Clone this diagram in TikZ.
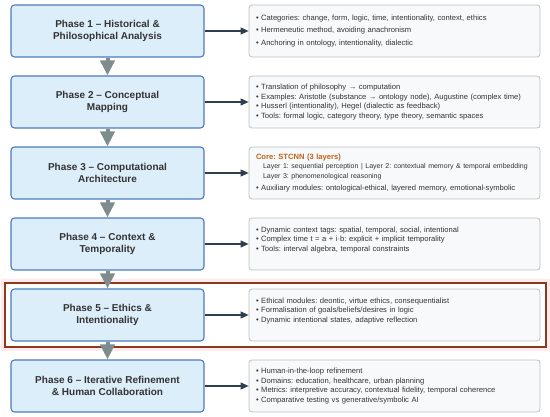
\documentclass[tikz,border=0pt]{standalone}
\usepackage{fontspec}
\setmainfont{Liberation Sans}
\usepackage{tikz}
\usetikzlibrary{arrows.meta}
\definecolor{phasefill}{RGB}{221,238,251}
\definecolor{phaseline}{RGB}{74,124,190}
\definecolor{notefill}{RGB}{248,249,250}
\definecolor{noteline}{RGB}{190,192,194}
\definecolor{navy}{RGB}{44,62,80}
\definecolor{stepgray}{RGB}{127,140,141}
\definecolor{corebrown}{RGB}{192,98,28}
\definecolor{marked}{RGB}{139,58,26}
\definecolor{markedglow}{RGB}{255,234,238}
\definecolor{inktext}{RGB}{51,51,51}
\frenchspacing
\begin{document}
\begin{tikzpicture}[x=1pt, y=-1pt,
		phase/.style={draw=phaseline, fill=phasefill, line width=1.1pt, rounded corners=3.5pt,
			minimum width=193pt, minimum height=52pt, align=center, text=inktext,
			font=\fontsize{10}{12.5}\selectfont\bfseries},
		note/.style={draw=noteline, fill=notefill, line width=0.8pt, rounded corners=3pt,
			minimum width=291pt, minimum height=52pt, inner xsep=7pt, text width=277pt,
			align=left, text=inktext, font=\fontsize{7.6}{9.7}\selectfont},
		tonote/.style={draw=navy, line width=1.1pt, -{Triangle[length=8pt, width=7pt]}},
		downarrow/.style={draw=stepgray, line width=4pt, -{Triangle[length=15pt, width=14pt]}}]
	\useasboundingbox (0,0) rectangle (550,417);

	% highlight round phase 5
	\draw[markedglow, line width=4pt] (3,281) rectangle (548,349);
	\draw[marked, fill=white, line width=1.2pt] (5,283) rectangle (546,347);

	% phases
	\node[phase] (p1) at (107.5,31) {Phase 1 -- Historical \&\\Philosophical Analysis};
	\node[phase] (p2) at (107.5,102) {Phase 2 -- Conceptual\\Mapping};
	\node[phase] (p3) at (107.5,173) {Phase 3 -- Computational\\Architecture};
	\node[phase] (p4) at (107.5,244) {Phase 4 -- Context \&\\Temporality};
	\node[phase] (p5) at (107.5,315) {Phase 5 -- Ethics \&\\Intentionality};
	\node[phase] (p6) at (107.5,386) {Phase 6 -- Iterative Refinement\\\& Human Collaboration};

	% details
	\node[note] (d1) at (394.5,31) {• Categories: change, form, logic, time, intentionality, context, ethics\\[2.8pt]
		• Hermeneutic method, avoiding anachronism\\[2.8pt]
		• Anchoring in ontology, intentionality, dialectic};
	\node[note] (d2) at (394.5,102) {• Translation of philosophy → computation\\
		• Examples: Aristotle (substance → ontology node), Augustine (complex time)\\
		• Husserl (intentionality), Hegel (dialectic as feedback)\\
		• Tools: formal logic, category theory, type theory, semantic spaces};
	\node[note] (d3) at (394.5,173) {{\color{corebrown}\bfseries Core: STCNN (3 layers)}\\
		{\fontsize{7}{9.5}\selectfont\hspace*{7pt}Layer 1: sequential perception | Layer 2: contextual memory \& temporal embedding\\
		\hspace*{7pt}Layer 3: phenomenological reasoning}\\[3pt]
		• Auxiliary modules: ontological-ethical, layered memory, emotional-symbolic};
	\node[note] (d4) at (394.5,244) {• Dynamic context tags: spatial, temporal, social, intentional\\
		• Complex time t = a + i·b: explicit + implicit temporality\\
		• Tools: interval algebra, temporal constraints\\ \mbox{}};
	\node[note] (d5) at (394.5,315) {• Ethical modules: deontic, virtue ethics, consequentialist\\
		• Formalisation of goals/beliefs/desires in logic\\
		• Dynamic intentional states, adaptive reflection\\ \mbox{}};
	\node[note] (d6) at (394.5,386) {• Human-in-the-loop refinement\\
		• Domains: education, healthcare, urban planning\\
		• Metrics: interpretive accuracy, contextual fidelity, temporal coherence\\
		• Comparative testing vs generative/symbolic AI};

	% arrows
	\draw[tonote] (p1) -- (d1);
	\draw[tonote] (p2) -- (d2);
	\draw[tonote] (p3) -- (d3);
	\draw[tonote] (p4) -- (d4);
	\draw[tonote] (p5) -- (d5);
	\draw[tonote] (p6) -- (d6);
	\draw[downarrow] (p1) -- (p2);
	\draw[downarrow] (p2) -- (p3);
	\draw[downarrow] (p3) -- (p4);
	\draw[downarrow] (p4) -- (p5);
	\draw[downarrow] (p5) -- (p6);
\end{tikzpicture}
\end{document}
